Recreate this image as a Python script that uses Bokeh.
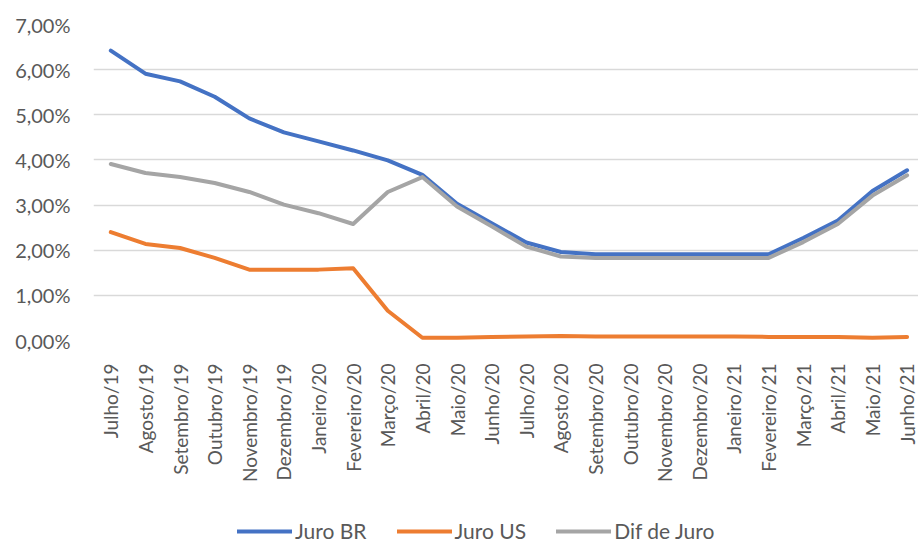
from bokeh.plotting import figure
from bokeh.layouts import column
from bokeh.models import (FixedTicker, Legend, LegendItem, Range1d,
                          CustomJSTickFormatter)
from bokeh.embed import file_html
from bokeh.resources import INLINE

# Monthly series, July 2019 to June 2021 (percent per year)
meses = ["Julho/19", "Agosto/19", "Setembro/19", "Outubro/19", "Novembro/19",
         "Dezembro/19", "Janeiro/20", "Fevereiro/20", "Março/20", "Abril/20",
         "Maio/20", "Junho/20", "Julho/20", "Agosto/20", "Setembro/20",
         "Outubro/20", "Novembro/20", "Dezembro/20", "Janeiro/21", "Fevereiro/21",
         "Março/21", "Abril/21", "Maio/21", "Junho/21"]

juro_br = [6.42, 5.91, 5.74, 5.40, 4.92, 4.61, 4.41, 4.21, 3.99, 3.67,
           3.03, 2.60, 2.17, 1.96, 1.91, 1.91, 1.91, 1.91, 1.91, 1.91,
           2.27, 2.66, 3.31, 3.77]

juro_us = [2.40, 2.14, 2.05, 1.83, 1.57, 1.57, 1.57, 1.60, 0.66, 0.06,
           0.06, 0.08, 0.09, 0.10, 0.09, 0.09, 0.09, 0.09, 0.09, 0.08,
           0.08, 0.08, 0.06, 0.08]

dif_juro = [3.91, 3.71, 3.62, 3.49, 3.29, 3.01, 2.82, 2.58, 3.29, 3.62,
            2.97, 2.53, 2.08, 1.86, 1.83, 1.83, 1.83, 1.83, 1.83, 1.83,
            2.18, 2.58, 3.21, 3.66]

series_names = ["Juro BR", "Juro US", "Dif de Juro"]
series_colors = ["#4472C4", "#ED7D31", "#A5A5A5"]

y_ticks = [0, 1, 2, 3, 4, 5, 6, 7]

x = list(range(len(meses)))

grid_col = "#d9d9d9"
text_col = "#595959"
style = dict(line_width=4, line_cap="round", line_join="round")

# --- main chart -------------------------------------------------------------
p = figure(width=918, height=505, output_backend="svg", toolbar_location=None,
           x_range=Range1d(-0.5, 23.33), y_range=Range1d(0, 7),
           min_border_left=93, min_border_right=0, min_border_top=24,
           min_border_bottom=165, background_fill_color="white",
           border_fill_color="white")
p.outline_line_color = None

p.xgrid.visible = False
p.ygrid.grid_line_color = grid_col
p.ygrid.grid_line_width = 1.3
p.ygrid.ticker = FixedTicker(ticks=y_ticks)

p.yaxis.ticker = FixedTicker(ticks=y_ticks)
p.yaxis.formatter = CustomJSTickFormatter(
    code="return tick.toFixed(2).replace('.', ',') + '%';")
p.yaxis.axis_line_color = None
p.yaxis.major_tick_line_color = None
p.yaxis.minor_tick_line_color = None
p.yaxis.major_tick_out = 0
p.yaxis.major_label_standoff = 23
p.yaxis.major_label_text_font = "Lato"
p.yaxis.major_label_text_font_size = "20px"
p.yaxis.major_label_text_color = text_col

p.xaxis.ticker = FixedTicker(ticks=x)
p.xaxis.major_label_overrides = {i: m for i, m in enumerate(meses)}
p.xaxis.major_label_orientation = 1.5708
p.xaxis.axis_line_color = None
p.xaxis.major_tick_line_color = None
p.xaxis.minor_tick_line_color = None
p.xaxis.major_tick_out = 0
p.xaxis.major_label_standoff = 23
p.xaxis.major_label_text_font = "Lato"
p.xaxis.major_label_text_font_size = "19px"
p.xaxis.major_label_text_color = text_col

for vals, col in zip([juro_br, juro_us, dif_juro], series_colors):
    p.line(x, vals, color=col, **style)

# --- legend strip underneath --------------------------------------------------
leg = figure(width=918, height=38, output_backend="svg", toolbar_location=None,
             x_range=Range1d(0, 1), y_range=Range1d(0, 1),
             x_axis_type=None, y_axis_type=None,
             min_border=0, min_border_left=0, min_border_right=0,
             min_border_top=0, min_border_bottom=0,
             background_fill_color="white", border_fill_color="white")
leg.outline_line_color = None

items = []
nan = float("nan")
for name, col in zip(series_names, series_colors):
    # placeholder renderer: carries the line style for the legend swatch only
    r = leg.line(x=[nan], y=[nan], color=col, **style)
    items.append(LegendItem(label=name, renderers=[r]))

legend = Legend(
    items=items, location=(144, 0), orientation="horizontal",
    glyph_width=55, glyph_height=20, label_height=20, label_standoff=3,
    spacing=30, padding=0, margin=0,
    border_line_alpha=0, background_fill_alpha=0,
    label_text_font="Lato", label_text_font_size="21px",
    label_text_color=text_col)
leg.add_layout(legend)

layout = column(p, leg, spacing=0)
open("out.html", "w").write(file_html(layout, INLINE))
